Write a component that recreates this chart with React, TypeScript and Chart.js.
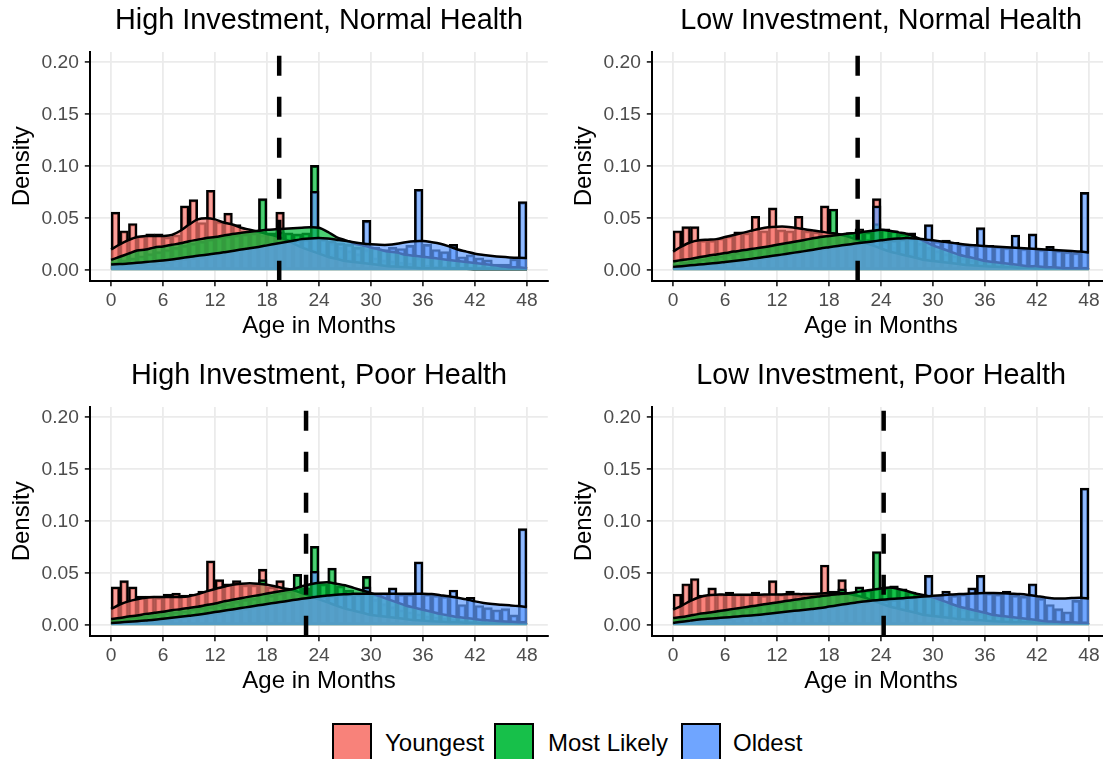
import React, { useEffect, useRef } from "react";
import { Chart, registerables } from "chart.js";
Chart.register(...registerables);

const FONT = "'Liberation Sans', Arial, Helvetica, sans-serif";

const seriesNames = ["Youngest", "Most Likely", "Oldest"];
const seriesRGB = ["248,118,109", "0,186,56", "97,156,255"];
const legendFill = ["rgb(248,130,122)", "rgb(23,192,74)", "rgb(111,165,255)"];

const panelTitles = [
  "High Investment, Normal Health",
  "Low Investment, Normal Health",
  "High Investment, Poor Health",
  "Low Investment, Poor Health",
];

const xTicks = [0, 6, 12, 18, 24, 30, 36, 42, 48];
const yTicks = [0, 0.05, 0.1, 0.15, 0.2];
const xMin = -2.4;
const xMax = 50.4;
const yMin = -0.01;
const yMax = 0.21;

// histogram bins: [start, start+1)
const binStarts = [0,1,2,3,4,5,6,7,8,9,10,11,12,13,14,15,16,17,18,19,20,21,22,23,24,25,26,27,28,29,30,31,32,33,34,35,36,37,38,39,40,41,42,43,44,45,46,47];
// density evaluation months
const densMonths = [0,1,2,3,4,5,6,7,8,9,10,11,12,13,14,15,16,17,18,19,20,21,22,23,24,25,26,27,28,29,30,31,32,33,34,35,36,37,38,39,40,41,42,43,44,45,46,47,48];

// vertical dashed reference lines (months)
const cutoffs = [19.4, 21.3, 22.5, 24.3];

// ---------- High Investment, Normal Health ----------
const hiNormalYoungHist = [0.056,0.038,0.045,0.033,0.035,0.035,0.032,0.034,0.062,0.068,0.046,0.077,0.047,0.055,0.044,0.038,0.036,0.034,0.035,0.056,0.030,0.025,0.022,0.020,0.018,0.015,0.013,0.011,0.009,0.008,0.006,0.005,0.004,0.004,0.003,0.003,0.002,0.002,0.002,0.001,0.001,0.001,0.001,0.001,0.001,0.001,0.001,0.001];
const hiNormalLikelyHist = [0.008,0.010,0.012,0.014,0.016,0.018,0.020,0.022,0.024,0.026,0.028,0.030,0.032,0.033,0.034,0.035,0.036,0.069,0.036,0.037,0.036,0.035,0.036,0.101,0.030,0.026,0.022,0.019,0.016,0.020,0.012,0.010,0.009,0.008,0.007,0.012,0.005,0.004,0.004,0.003,0.003,0.002,0.002,0.002,0.001,0.001,0.001,0.003];
const hiNormalOldHist = [0.004,0.005,0.004,0.006,0.006,0.007,0.008,0.010,0.011,0.012,0.013,0.015,0.016,0.018,0.019,0.021,0.022,0.024,0.026,0.027,0.028,0.029,0.030,0.076,0.030,0.028,0.026,0.025,0.022,0.048,0.022,0.020,0.022,0.021,0.024,0.078,0.025,0.020,0.018,0.025,0.013,0.015,0.012,0.010,0.006,0.006,0.011,0.066];
const hiNormalYoungDens = [0.020,0.025,0.029,0.032,0.033,0.033,0.033,0.034,0.038,0.044,0.049,0.050,0.049,0.046,0.044,0.041,0.039,0.037,0.035,0.033,0.030,0.026,0.022,0.019,0.016,0.013,0.011,0.009,0.008,0.007,0.006,0.005,0.004,0.0035,0.003,0.0025,0.002,0.002,0.002,0.0015,0.0015,0.0015,0.001,0.001,0.001,0.001,0.001,0.001,0.001];
const hiNormalLikelyDens = [0.010,0.013,0.016,0.019,0.020,0.022,0.023,0.0245,0.026,0.028,0.0295,0.031,0.032,0.0335,0.035,0.036,0.037,0.038,0.039,0.0395,0.040,0.0405,0.041,0.0415,0.041,0.037,0.032,0.029,0.026,0.024,0.022,0.020,0.018,0.017,0.015,0.014,0.013,0.012,0.011,0.010,0.009,0.008,0.007,0.006,0.005,0.004,0.003,0.003,0.002];
const hiNormalOldDens = [0.0055,0.006,0.0065,0.0072,0.008,0.0087,0.0095,0.0105,0.0117,0.0128,0.014,0.015,0.0162,0.0173,0.0185,0.020,0.0212,0.0225,0.024,0.0255,0.027,0.0285,0.030,0.0307,0.031,0.0305,0.0295,0.0285,0.027,0.0258,0.025,0.0245,0.0245,0.0255,0.027,0.028,0.0281,0.027,0.0255,0.023,0.020,0.018,0.016,0.0148,0.0138,0.013,0.0124,0.012,0.0118];

// ---------- Low Investment, Normal Health ----------
const loNormalYoungHist = [0.038,0.042,0.042,0.029,0.029,0.031,0.033,0.037,0.036,0.052,0.038,0.060,0.039,0.038,0.052,0.038,0.037,0.062,0.035,0.035,0.036,0.040,0.030,0.069,0.025,0.022,0.019,0.016,0.014,0.012,0.010,0.009,0.008,0.007,0.006,0.005,0.005,0.004,0.004,0.003,0.003,0.003,0.002,0.002,0.002,0.002,0.002,0.002];
const loNormalLikelyHist = [0.006,0.008,0.010,0.011,0.013,0.014,0.016,0.017,0.019,0.021,0.022,0.024,0.026,0.027,0.029,0.031,0.032,0.034,0.059,0.035,0.036,0.037,0.037,0.045,0.040,0.038,0.035,0.030,0.026,0.022,0.019,0.016,0.014,0.012,0.010,0.009,0.008,0.007,0.006,0.005,0.004,0.004,0.003,0.003,0.002,0.002,0.002,0.002];
const loNormalOldHist = [0.003,0.004,0.004,0.005,0.006,0.007,0.008,0.009,0.010,0.011,0.012,0.013,0.014,0.016,0.017,0.018,0.020,0.021,0.022,0.024,0.025,0.026,0.027,0.062,0.028,0.029,0.030,0.036,0.031,0.044,0.028,0.029,0.027,0.025,0.024,0.041,0.024,0.023,0.022,0.034,0.021,0.035,0.020,0.023,0.019,0.018,0.017,0.075];
const loNormalYoungDens = [0.018,0.023,0.027,0.029,0.0295,0.030,0.032,0.034,0.036,0.038,0.040,0.0415,0.042,0.042,0.041,0.0397,0.0385,0.0374,0.036,0.035,0.033,0.030,0.027,0.024,0.021,0.018,0.016,0.014,0.012,0.010,0.009,0.008,0.007,0.006,0.005,0.0045,0.004,0.0035,0.003,0.003,0.0025,0.0025,0.002,0.002,0.002,0.002,0.002,0.002,0.002];
const loNormalLikelyDens = [0.0086,0.010,0.011,0.0125,0.014,0.0153,0.0166,0.018,0.0192,0.0205,0.0217,0.023,0.0245,0.026,0.0275,0.029,0.0305,0.032,0.033,0.034,0.0352,0.036,0.037,0.038,0.0389,0.038,0.0365,0.035,0.032,0.028,0.024,0.021,0.018,0.015,0.013,0.011,0.009,0.008,0.007,0.006,0.005,0.004,0.004,0.003,0.003,0.002,0.002,0.002,0.002];
const loNormalOldDens = [0.0033,0.004,0.0048,0.0055,0.0062,0.007,0.008,0.009,0.010,0.011,0.0121,0.0133,0.0145,0.0157,0.017,0.0182,0.0195,0.021,0.0222,0.0234,0.0246,0.0257,0.0267,0.0278,0.0288,0.0298,0.0305,0.031,0.0305,0.0297,0.0288,0.0278,0.0267,0.0256,0.0246,0.024,0.0233,0.0228,0.0224,0.022,0.0215,0.021,0.0205,0.020,0.0195,0.019,0.0185,0.018,0.017];

// ---------- High Investment, Poor Health ----------
const hiPoorYoungHist = [0.037,0.043,0.037,0.028,0.028,0.027,0.030,0.031,0.029,0.030,0.033,0.062,0.044,0.040,0.043,0.039,0.039,0.054,0.037,0.043,0.033,0.030,0.026,0.024,0.021,0.018,0.016,0.014,0.012,0.010,0.009,0.008,0.007,0.006,0.005,0.004,0.004,0.003,0.003,0.003,0.002,0.002,0.002,0.002,0.002,0.002,0.002,0.002];
const hiPoorLikelyHist = [0.005,0.007,0.008,0.009,0.010,0.011,0.012,0.013,0.014,0.016,0.017,0.018,0.020,0.021,0.023,0.025,0.026,0.044,0.029,0.031,0.033,0.049,0.036,0.076,0.040,0.055,0.038,0.034,0.030,0.047,0.025,0.021,0.018,0.015,0.013,0.011,0.009,0.008,0.007,0.006,0.005,0.004,0.004,0.003,0.003,0.003,0.002,0.002];
const hiPoorOldHist = [0.002,0.003,0.003,0.004,0.004,0.005,0.006,0.007,0.008,0.009,0.010,0.011,0.012,0.013,0.015,0.016,0.018,0.019,0.021,0.022,0.023,0.025,0.026,0.052,0.028,0.029,0.030,0.030,0.030,0.037,0.030,0.031,0.036,0.030,0.030,0.061,0.030,0.029,0.028,0.034,0.020,0.027,0.019,0.017,0.015,0.016,0.010,0.093];
const hiPoorYoungDens = [0.0157,0.020,0.023,0.025,0.0265,0.0272,0.0273,0.0273,0.0273,0.028,0.030,0.0326,0.035,0.037,0.039,0.040,0.0405,0.040,0.039,0.0373,0.0355,0.034,0.031,0.028,0.025,0.022,0.019,0.016,0.014,0.012,0.010,0.009,0.008,0.007,0.006,0.005,0.0045,0.004,0.0035,0.003,0.003,0.0025,0.0025,0.002,0.002,0.002,0.002,0.002,0.002];
const hiPoorLikelyDens = [0.0061,0.007,0.0085,0.0095,0.011,0.012,0.013,0.0145,0.0155,0.0167,0.0179,0.0195,0.021,0.023,0.0245,0.0261,0.0276,0.029,0.0305,0.032,0.0335,0.035,0.0375,0.0395,0.041,0.0415,0.040,0.0385,0.036,0.0335,0.031,0.028,0.025,0.022,0.019,0.017,0.015,0.013,0.011,0.0095,0.008,0.007,0.006,0.005,0.0045,0.004,0.0035,0.003,0.003];
const hiPoorOldDens = [0.0022,0.0028,0.0034,0.004,0.0047,0.0054,0.0063,0.0072,0.0082,0.0092,0.0102,0.0114,0.0127,0.014,0.0153,0.0166,0.0179,0.0192,0.0205,0.0218,0.023,0.0243,0.0255,0.0266,0.0277,0.0286,0.0294,0.0299,0.0303,0.0304,0.0304,0.0303,0.0303,0.0303,0.0303,0.0303,0.0303,0.030,0.029,0.028,0.0265,0.025,0.023,0.0215,0.0205,0.0198,0.0192,0.0185,0.0175];

// ---------- Low Investment, Poor Health ----------
const loPoorYoungHist = [0.030,0.040,0.045,0.029,0.036,0.030,0.032,0.030,0.030,0.032,0.029,0.043,0.030,0.033,0.029,0.030,0.030,0.058,0.033,0.044,0.030,0.028,0.026,0.024,0.022,0.020,0.018,0.016,0.014,0.012,0.011,0.010,0.009,0.008,0.007,0.006,0.005,0.005,0.004,0.004,0.003,0.003,0.003,0.003,0.002,0.002,0.002,0.002];
const loPoorLikelyHist = [0.006,0.008,0.009,0.010,0.012,0.013,0.014,0.016,0.017,0.018,0.020,0.021,0.022,0.024,0.025,0.026,0.028,0.029,0.030,0.035,0.032,0.037,0.034,0.071,0.036,0.038,0.035,0.032,0.029,0.027,0.024,0.021,0.018,0.016,0.014,0.012,0.010,0.009,0.008,0.007,0.006,0.005,0.004,0.004,0.003,0.003,0.003,0.002];
const loPoorOldHist = [0.002,0.003,0.003,0.004,0.005,0.006,0.006,0.007,0.008,0.009,0.010,0.011,0.012,0.013,0.014,0.015,0.016,0.017,0.018,0.019,0.020,0.021,0.022,0.023,0.024,0.025,0.026,0.027,0.028,0.048,0.028,0.033,0.029,0.030,0.036,0.048,0.031,0.030,0.033,0.029,0.028,0.040,0.026,0.020,0.016,0.013,0.024,0.132];
const loPoorYoungDens = [0.015,0.019,0.0235,0.027,0.029,0.0295,0.0295,0.0295,0.0295,0.0295,0.0295,0.0296,0.0297,0.0298,0.030,0.030,0.0302,0.0305,0.031,0.031,0.0305,0.029,0.027,0.024,0.021,0.018,0.016,0.014,0.012,0.010,0.009,0.008,0.007,0.006,0.0055,0.005,0.0045,0.004,0.0035,0.003,0.003,0.003,0.0025,0.0025,0.0025,0.002,0.002,0.002,0.002];
const loPoorLikelyDens = [0.007,0.008,0.0095,0.011,0.012,0.0133,0.0145,0.0158,0.017,0.0183,0.0195,0.0208,0.022,0.0233,0.0245,0.0258,0.027,0.028,0.029,0.0298,0.0306,0.0318,0.033,0.0343,0.0355,0.0364,0.035,0.033,0.0306,0.029,0.027,0.024,0.021,0.018,0.016,0.014,0.012,0.010,0.009,0.008,0.007,0.006,0.005,0.004,0.0035,0.003,0.003,0.0025,0.0025];
const loPoorOldDens = [0.0023,0.0035,0.0045,0.0055,0.0062,0.0069,0.0075,0.0082,0.0089,0.0095,0.0102,0.0111,0.012,0.013,0.0139,0.0148,0.0157,0.0166,0.018,0.0193,0.0206,0.0218,0.023,0.0238,0.0245,0.0252,0.0258,0.0264,0.027,0.0277,0.0284,0.029,0.0296,0.030,0.0304,0.0307,0.031,0.031,0.0308,0.0304,0.030,0.0292,0.028,0.0268,0.0258,0.0258,0.0262,0.0265,0.0258];

const panelHists = [
  [hiNormalYoungHist, hiNormalLikelyHist, hiNormalOldHist],
  [loNormalYoungHist, loNormalLikelyHist, loNormalOldHist],
  [hiPoorYoungHist, hiPoorLikelyHist, hiPoorOldHist],
  [loPoorYoungHist, loPoorLikelyHist, loPoorOldHist],
];
const panelDens = [
  [hiNormalYoungDens, hiNormalLikelyDens, hiNormalOldDens],
  [loNormalYoungDens, loNormalLikelyDens, loNormalOldDens],
  [hiPoorYoungDens, hiPoorLikelyDens, hiPoorOldDens],
  [loPoorYoungDens, loPoorLikelyDens, loPoorOldDens],
];

const CANVAS_W = 562;
const CANVAS_H = 355;
const panelPos = [
  { left: 0, top: 0 },
  { left: 562, top: 0 },
  { left: 0, top: 355 },
  { left: 562, top: 355 },
];

function Panel({ idx }: { idx: number }) {
  const ref = useRef<HTMLCanvasElement | null>(null);
  useEffect(() => {
    if (!ref.current) return;
    const hists = panelHists[idx];
    const dens = panelDens[idx];
    const datasets: any[] = [];
    // histograms (drawn first: highest order)
    hists.forEach((h, s) => {
      datasets.push({
        type: "bar",
        label: seriesNames[s] + " hist",
        data: binStarts.map((b, i) => ({ x: b + 0.5, y: h[i] })),
        backgroundColor: `rgba(${seriesRGB[s]},0.7)`,
        borderColor: "#000",
        borderWidth: 2.4,
        borderSkipped: false,
        grouped: false,
        barPercentage: 1,
        categoryPercentage: 1,
        order: 10 - s,
      });
    });
    // densities
    dens.forEach((d, s) => {
      datasets.push({
        type: "line",
        label: seriesNames[s] + " density",
        data: densMonths.map((m, i) => ({ x: m, y: d[i] })),
        backgroundColor: `rgba(${seriesRGB[s]},0.7)`,
        borderColor: "#000",
        borderWidth: 2.5,
        fill: "origin",
        pointRadius: 0,
        tension: 0.3,
        order: 6 - s,
      });
    });
    // dashed reference line
    datasets.push({
      type: "line",
      label: "cutoff",
      data: [
        { x: cutoffs[idx], y: yMin },
        { x: cutoffs[idx], y: yMax },
      ],
      borderColor: "#000",
      borderWidth: 4.5,
      borderDash: [20, 21],
      pointRadius: 0,
      fill: false,
      order: 0,
    });

    const chart = new Chart(ref.current, {
      type: "bar",
      data: { datasets },
      options: {
        responsive: false,
        animation: false,
        devicePixelRatio: 1,
        layout: { padding: { left: 0, right: 14.2, top: 0, bottom: 14.6 } },
        plugins: {
          legend: { display: false },
          tooltip: { enabled: false },
          title: {
            display: true,
            text: panelTitles[idx],
            fullSize: false,
            color: "#000",
            font: { family: FONT, size: 28.8, weight: "normal", lineHeight: 1.2 },
            padding: { top: 4, bottom: 13.44 },
          },
        },
        scales: {
          x: {
            type: "linear",
            min: xMin,
            max: xMax,
            offset: false,
            afterBuildTicks: (s: any) => {
              s.ticks = xTicks.map((v) => ({ value: v }));
            },
            afterFit: (s: any) => {
              s.height = 59.7;
            },
            ticks: {
              color: "#4d4d4d",
              font: { family: FONT, size: 19.2 },
              padding: 3,
              autoSkip: false,
              maxRotation: 0,
              callback: (v: any) => String(v),
            },
            grid: {
              color: "#ebebeb",
              lineWidth: 1.8,
              tickLength: 5.5,
              tickColor: "#333333",
              tickWidth: 1.8,
              offset: false,
            },
            border: { display: true, color: "#000", width: 2 },
            title: {
              display: true,
              text: "Age in Months",
              color: "#000",
              font: { family: FONT, size: 24, lineHeight: 1.2 },
              padding: { top: 0, bottom: 0 },
            },
          },
          y: {
            type: "linear",
            min: yMin,
            max: yMax,
            afterBuildTicks: (s: any) => {
              s.ticks = yTicks.map((v) => ({ value: v }));
            },
            afterFit: (s: any) => {
              s.width = 90.3;
            },
            ticks: {
              color: "#4d4d4d",
              font: { family: FONT, size: 19.2 },
              padding: 6,
              autoSkip: false,
              callback: (v: any) => Number(v).toFixed(2),
            },
            grid: {
              color: "#ebebeb",
              lineWidth: 1.8,
              tickLength: 5.5,
              tickColor: "#333333",
              tickWidth: 1.8,
            },
            border: { display: true, color: "#000", width: 2 },
            title: {
              display: true,
              text: "Density",
              color: "#000",
              font: { family: FONT, size: 24, lineHeight: 1.2 },
              padding: { top: 7.6, bottom: 0 },
            },
          },
        },
      } as any,
    });
    return () => chart.destroy();
  }, [idx]);

  const pos = panelPos[idx];
  return (
    <canvas
      ref={ref}
      width={CANVAS_W}
      height={CANVAS_H}
      style={{
        position: "absolute",
        left: pos.left,
        top: pos.top,
        width: CANVAS_W,
        height: CANVAS_H,
      }}
    />
  );
}

const legendBoxLeft = [332, 494, 681];
const legendTextLeft = [385, 548, 733];

export default function App() {
  return (
    <div
      style={{
        position: "fixed",
        left: 0,
        top: 0,
        width: 1103,
        height: 759,
        overflow: "hidden",
        background: "#fff",
        fontFamily: FONT,
      }}
    >
      {[0, 1, 2, 3].map((i) => (
        <Panel key={i} idx={i} />
      ))}
      {seriesNames.map((name, i) => (
        <React.Fragment key={name}>
          <div
            style={{
              position: "absolute",
              left: legendBoxLeft[i],
              top: 723,
              width: 40,
              height: 40,
              boxSizing: "border-box",
              border: "2.5px solid #000",
              background: legendFill[i],
            }}
          />
          <div
            style={{
              position: "absolute",
              left: legendTextLeft[i],
              top: 731,
              fontSize: 24,
              lineHeight: "24px",
              color: "#000",
              whiteSpace: "nowrap",
            }}
          >
            {name}
          </div>
        </React.Fragment>
      ))}
    </div>
  );
}
